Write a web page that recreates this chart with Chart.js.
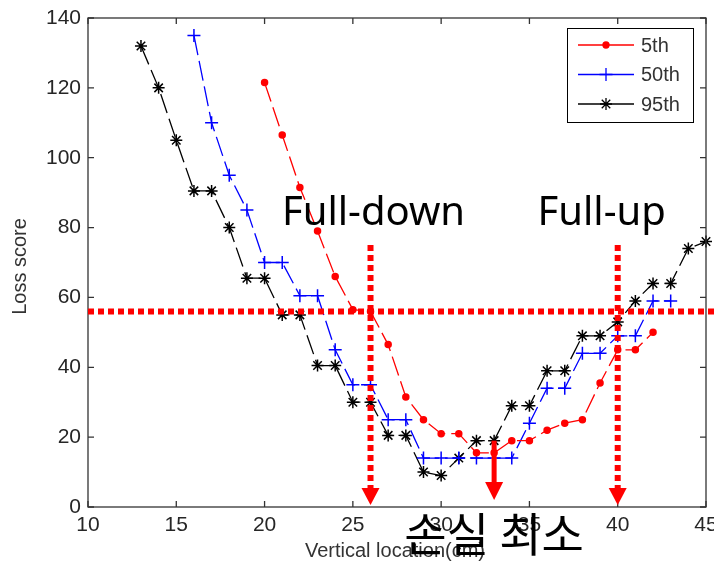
<!DOCTYPE html>
<html>
<head>
<meta charset="utf-8">
<script src="https://cdn.jsdelivr.net/npm/chart.js@4.4.1/dist/chart.umd.min.js"></script>
<style>
html, body { margin: 0; padding: 0; background: #fff; }
#wrap { width: 714px; height: 563px; }
</style>
</head>
<body>
<div id="wrap"><canvas id="chart"></canvas></div>
<script>
// values
const loc5 = [20, 21, 22, 23, 24, 25, 26, 27, 28, 29, 30, 31, 32, 33, 34, 35, 36, 37, 38, 39, 40, 41, 42];
const loss5 = [121.5, 106.5, 91.5, 79, 66, 56.5, 56, 46.5, 31.5, 25, 21, 21, 15.5, 15.5, 19, 19, 22, 24, 25, 35.5, 45, 45, 50];

const loc50 = [16, 17, 18, 19, 20, 21, 22, 23, 24, 25, 26, 27, 28, 29, 30, 31, 32, 33, 34, 35, 36, 37, 38, 39, 40, 41, 42, 43];
const loss50 = [135, 110, 95, 85, 70, 70, 60.5, 60.5, 45, 35, 35, 25, 25, 14, 14, 14, 14, 14, 14, 24, 34, 34, 44, 44, 49, 49, 59, 59];

const loc95 = [13, 14, 15, 16, 17, 18, 19, 20, 21, 22, 23, 24, 25, 26, 27, 28, 29, 30, 31, 32, 33, 34, 35, 36, 37, 38, 39, 40, 41, 42, 43, 44, 45];
const loss95 = [132, 120, 105, 90.5, 90.5, 80, 65.5, 65.5, 55, 55, 40.5, 40.5, 30, 30, 20.5, 20.5, 10, 9, 14, 19, 19, 29, 29, 39, 39, 49, 49, 53, 59, 64, 64, 74, 76];

const xTicks = [10, 15, 20, 25, 30, 35, 40, 45];
const yTicks = [0, 20, 40, 60, 80, 100, 120, 140];

// annotation values
const thresholdLoss = 56;
const fullDownLoc = 26;
const fullUpLoc = 40;
const minLoc = 33;
const markerTop = 75;   // where the dotted markers start
const minArrowTop = 19;

const RED = '#ff0000';

function toPoints(xs, ys) {
    return xs.map((x, i) => ({ x: x, y: ys[i] }));
}

const matlabLook = {
    id: 'matlabLook',
    afterDraw(chart) {
        const ctx = chart.ctx;
        const area = chart.chartArea;
        const xs = chart.scales.x;
        const ys = chart.scales.y;
        ctx.save();

        // frame with inward ticks
        ctx.strokeStyle = '#333';
        ctx.lineWidth = 1.3;
        ctx.setLineDash([]);
        ctx.strokeRect(area.left, area.top, area.right - area.left, area.bottom - area.top);
        ctx.beginPath();
        xTicks.forEach(v => {
            const px = xs.getPixelForValue(v);
            ctx.moveTo(px, area.bottom); ctx.lineTo(px, area.bottom - 6);
            ctx.moveTo(px, area.top); ctx.lineTo(px, area.top + 6);
        });
        yTicks.forEach(v => {
            const py = ys.getPixelForValue(v);
            ctx.moveTo(area.left, py); ctx.lineTo(area.left + 6, py);
            ctx.moveTo(area.right, py); ctx.lineTo(area.right - 6, py);
        });
        ctx.stroke();

        // axis titles
        ctx.fillStyle = '#333';
        ctx.font = '20px "Liberation Sans", Arial, sans-serif';
        ctx.textAlign = 'center';
        ctx.textBaseline = 'middle';
        ctx.fillText('Vertical location(cm)', (area.left + area.right) / 2 - 2, 551);
        ctx.save();
        ctx.translate(20, (area.top + area.bottom) / 2 + 4);
        ctx.rotate(-Math.PI / 2);
        ctx.fillText('Loss score', 0, 0);
        ctx.restore();

        // horizontal threshold
        ctx.strokeStyle = RED;
        ctx.lineWidth = 6;
        ctx.setLineDash([6, 4]);
        const ty = ys.getPixelForValue(thresholdLoss);
        ctx.beginPath();
        ctx.moveTo(area.left, ty);
        ctx.lineTo(chart.width, ty);
        ctx.stroke();

        // dotted arrows
        [fullDownLoc, fullUpLoc].forEach(loc => {
            const px = xs.getPixelForValue(loc);
            ctx.strokeStyle = RED;
            ctx.lineWidth = 6;
            ctx.setLineDash([6, 4]);
            ctx.beginPath();
            ctx.moveTo(px, ys.getPixelForValue(markerTop));
            ctx.lineTo(px, area.bottom - 19);
            ctx.stroke();
            ctx.fillStyle = RED;
            ctx.beginPath();
            ctx.moveTo(px - 9, area.bottom - 19);
            ctx.lineTo(px + 9, area.bottom - 19);
            ctx.lineTo(px, area.bottom - 2);
            ctx.closePath();
            ctx.fill();
        });

        // solid arrow at the minimum
        const mx = xs.getPixelForValue(minLoc);
        ctx.setLineDash([]);
        ctx.fillStyle = RED;
        ctx.fillRect(mx - 2.5, ys.getPixelForValue(minArrowTop), 5, area.bottom - 25 - ys.getPixelForValue(minArrowTop));
        ctx.beginPath();
        ctx.moveTo(mx - 9, area.bottom - 25);
        ctx.lineTo(mx + 9, area.bottom - 25);
        ctx.lineTo(mx, area.bottom - 7);
        ctx.closePath();
        ctx.fill();

        // annotation labels
        ctx.fillStyle = '#000';
        ctx.font = '40px "Noto Sans", sans-serif';
        ctx.textAlign = 'center';
        ctx.textBaseline = 'alphabetic';
        ctx.fillText('Full-down', xs.getPixelForValue(fullDownLoc) + 3, 225);
        ctx.fillText('Full-up', xs.getPixelForValue(fullUpLoc) - 16, 225);
        ctx.font = '46px "Noto Sans CJK KR", sans-serif';
        ctx.textBaseline = 'middle';
        ctx.fillText('손실 최소', mx, 534);

        // legend box
        const lx = 567, ly = 28, lw = 126, lh = 94;
        ctx.fillStyle = '#fff';
        ctx.fillRect(lx, ly, lw, lh);
        ctx.strokeStyle = '#000';
        ctx.lineWidth = 1;
        ctx.strokeRect(lx + 0.5, ly + 0.5, lw, lh);
        chart.data.datasets.forEach((ds, i) => {
            const rowY = 45 + i * 29.5;
            ctx.strokeStyle = ds.borderColor;
            ctx.fillStyle = ds.borderColor;
            ctx.lineWidth = 1.3;
            ctx.beginPath();
            ctx.moveTo(578, rowY);
            ctx.lineTo(634, rowY);
            ctx.stroke();
            Chart.helpers.drawPoint(ctx, {
                pointStyle: ds.pointStyle,
                radius: ds.pointRadius,
                borderWidth: ds.pointBorderWidth
            }, 606, rowY);
            ctx.fillStyle = '#333';
            ctx.font = '20px "Liberation Sans", Arial, sans-serif';
            ctx.textAlign = 'left';
            ctx.textBaseline = 'middle';
            ctx.fillText(ds.label, 641, rowY + 1);
        });
        ctx.restore();
    }
};

const series = [
    { label: '5th', pts: toPoints(loc5, loss5), color: RED, style: 'circle', r: 3 },
    { label: '50th', pts: toPoints(loc50, loss50), color: '#0000ff', style: 'cross', r: 6.5 },
    { label: '95th', pts: toPoints(loc95, loss95), color: '#000000', style: 'star', r: 6 }
];

new Chart(document.getElementById('chart'), {
    type: 'line',
    data: {
        datasets: series.map(s => ({
            label: s.label,
            data: s.pts,
            borderColor: s.color,
            backgroundColor: s.color,
            pointBackgroundColor: s.color,
            pointBorderColor: s.color,
            borderWidth: 1.3,
            borderDash: [20, 6],
            pointStyle: s.style,
            pointRadius: s.r,
            pointBorderWidth: 1.5,
            tension: 0,
            fill: false,
            clip: false
        }))
    },
    options: {
        responsive: true,
        maintainAspectRatio: false,
        animation: false,
        layout: { padding: { left: 0, top: 18, right: 7, bottom: 0 } },
        scales: {
            x: {
                type: 'linear',
                min: 10, max: 45,
                afterFit: scale => {
                    scale.height = 56;
                    scale.paddingLeft = 0;
                    scale.paddingRight = 0;
                },
                afterBuildTicks: scale => { scale.ticks = xTicks.map(v => ({ value: v })); },
                grid: { display: false, drawTicks: false },
                border: { display: false },
                ticks: { color: '#262626', font: { family: '"Liberation Sans", Arial, sans-serif', size: 21 }, padding: 6, maxRotation: 0 }
            },
            y: {
                min: 0, max: 140,
                afterFit: scale => {
                    scale.width = 88;
                    scale.paddingTop = 0;
                    scale.paddingBottom = 0;
                },
                afterBuildTicks: scale => { scale.ticks = yTicks.map(v => ({ value: v })); },
                grid: { display: false, drawTicks: false },
                border: { display: false },
                ticks: { color: '#262626', font: { family: '"Liberation Sans", Arial, sans-serif', size: 21 }, padding: 7 }
            }
        },
        plugins: {
            legend: { display: false },
            tooltip: { enabled: false }
        }
    },
    plugins: [matlabLook]
});
</script>
</body>
</html>
